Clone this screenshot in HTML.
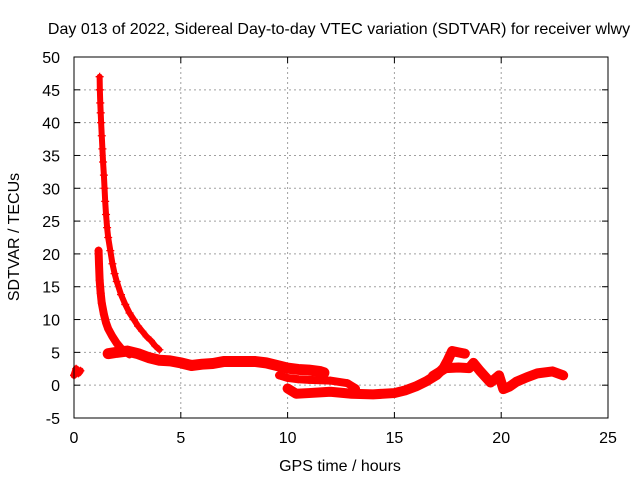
<!DOCTYPE html>
<html><head><meta charset="utf-8"><style>
body{margin:0;background:#fff;}
svg{display:block;font-family:"Liberation Sans",sans-serif;}
</style></head><body>
<svg id="chart" width="640" height="480" xmlns="http://www.w3.org/2000/svg">
<rect width="640" height="480" fill="#fff"/>
<text x="339" y="34" font-size="16" text-anchor="middle">Day 013 of 2022, Sidereal Day-to-day VTEC variation (SDTVAR) for receiver wlwy</text>
<text x="340" y="471" font-size="16" text-anchor="middle">GPS time / hours</text>
<text x="19" y="237" font-size="16" text-anchor="middle" transform="rotate(-90 19 237)">SDTVAR / TECUs</text>
<g id="grid"></g><g id="marks"></g><g id="axes"></g>
</svg>
<script>
const xTicks=[0,5,10,15,20,25];
const yTicks=[-5,0,5,10,15,20,25,30,35,40,45,50];
// tracks: [hour, value]
const trackUpperDecay=[[1.2,47],[1.21,45],[1.23,43],[1.25,41.5],[1.27,40],[1.3,38],[1.33,36],[1.36,34],[1.4,32],[1.43,30],[1.46,28],[1.5,26],[1.55,24],[1.6,22.5],[1.7,20.5],[1.8,18.5],[1.9,17],[2.0,15.8],[2.2,13.8],[2.4,12.3],[2.6,11],[2.8,10],[3.0,9],[3.2,8.2],[3.4,7.4],[3.6,6.8],[3.8,6],[4.0,5.4]];
const trackLowerDecay=[[1.15,20.5],[1.17,18.5],[1.2,16],[1.25,14],[1.3,12.5],[1.4,10.8],[1.5,9.5],[1.6,8.6],[1.8,7.4],[2.0,6.4],[2.2,5.6],[2.4,5.1],[2.6,4.7]];
const trackBase=[[1.6,4.8],[2.0,5.0],[2.5,5.2],[3.0,4.8],[3.5,4.2],[4.0,3.8],[4.5,3.7],[5.0,3.4],[5.5,3.0],[6.0,3.2],[6.5,3.3],[7.0,3.6],[7.5,3.6],[8.0,3.6],[8.5,3.6],[9.0,3.4],[9.5,3.0],[10.0,2.6],[10.5,2.4],[11.0,2.3],[11.5,2.1],[11.7,1.9]];
const trackMiddle=[[9.6,1.5],[10.0,1.1],[10.5,0.9],[11.0,0.8],[12.0,0.7],[12.8,0.3],[13.2,-0.5]];
const trackLow=[[10.0,-0.5],[10.4,-1.3],[11.0,-1.2],[12.0,-1.0],[13.0,-1.3],[14.0,-1.4],[15.0,-1.2],[15.5,-0.8],[16.0,-0.2],[16.5,0.6],[17.0,1.6],[17.3,2.6],[17.5,3.8],[17.7,5.2],[18.0,5.0],[18.3,4.8]];
const trackLate=[[16.8,1.4],[17.4,2.6],[18.0,2.7],[18.5,2.6],[18.7,3.4],[19.0,2.2],[19.5,0.4],[19.9,1.5],[20.1,-0.6],[20.4,-0.2],[20.7,0.5],[21.2,1.2],[21.7,1.8],[22.4,2.1],[22.9,1.5]];
const trackStart=[[0.0,1.5],[0.1,2.5],[0.2,1.8],[0.3,2.2]];
const tracks=[trackUpperDecay,trackLowerDecay,trackBase,trackMiddle,trackLow,trackLate,trackStart];
const trackNames=['upper-decay','lower-decay','base-band','middle-band','low-band','late-band','start-cluster'];
const widths=[6,8,11,8,10,10,7];
const NS='http://www.w3.org/2000/svg';
const L=74,R=608,T=57,B=418,xmin=0,xmax=25,ymin=-5,ymax=50;
const sx=v=>L+(v-xmin)/(xmax-xmin)*(R-L);
const sy=v=>B-(v-ymin)/(ymax-ymin)*(B-T);
function mk(tag,attrs,parent){const e=document.createElementNS(NS,tag);for(const k in attrs)e.setAttribute(k,attrs[k]);parent.appendChild(e);return e;}
const grid=document.getElementById('grid'),axes=document.getElementById('axes'),marks=document.getElementById('marks');
xTicks.forEach(t=>{const x=sx(t);
 if(t>xmin&&t<xmax){const g=mk('line',{x1:x,x2:x,y1:T,y2:B,stroke:'#a0a0a0','stroke-dasharray':'2,3'},grid);}
 mk('line',{x1:x,x2:x,y1:B,y2:B-6,stroke:'#000'},axes);mk('line',{x1:x,x2:x,y1:T,y2:T+6,stroke:'#000'},axes);
 const tx=mk('text',{x:x,y:443,'font-size':16,'text-anchor':'middle'},axes);tx.textContent=t;
 
 });
yTicks.forEach(t=>{const y=sy(t);
 if(t>ymin&&t<ymax){const g=mk('line',{x1:L,x2:R,y1:y,y2:y,stroke:'#a0a0a0','stroke-dasharray':'2,3'},grid);}
 mk('line',{x1:L,x2:L+6,y1:y,y2:y,stroke:'#000'},axes);mk('line',{x1:R,x2:R-6,y1:y,y2:y,stroke:'#000'},axes);
 const tx=mk('text',{x:60,y:y+6,'font-size':16,'text-anchor':'end'},axes);tx.textContent=t;
 
 });
const frame=mk('rect',{x:L,y:T,width:R-L,height:B-T,fill:'none',stroke:'#000'},axes);


tracks.forEach((tr,i)=>{
 const g=mk('g',{},marks);
 
 
 mk('polyline',{points:tr.map(p=>sx(p[0])+','+sy(p[1])).join(' '),fill:'none',stroke:'#f00','stroke-width':widths[i],'stroke-linejoin':'round','stroke-linecap':'round'},g);
 tr.forEach(p=>{const x=sx(p[0]),y=sy(p[1]);
  const m=mk('path',{d:`M${x-4},${y}h8M${x},${y-4}v8`,stroke:'#f00','stroke-width':1.3},g);
  
  });
});
</script>
</body></html>
